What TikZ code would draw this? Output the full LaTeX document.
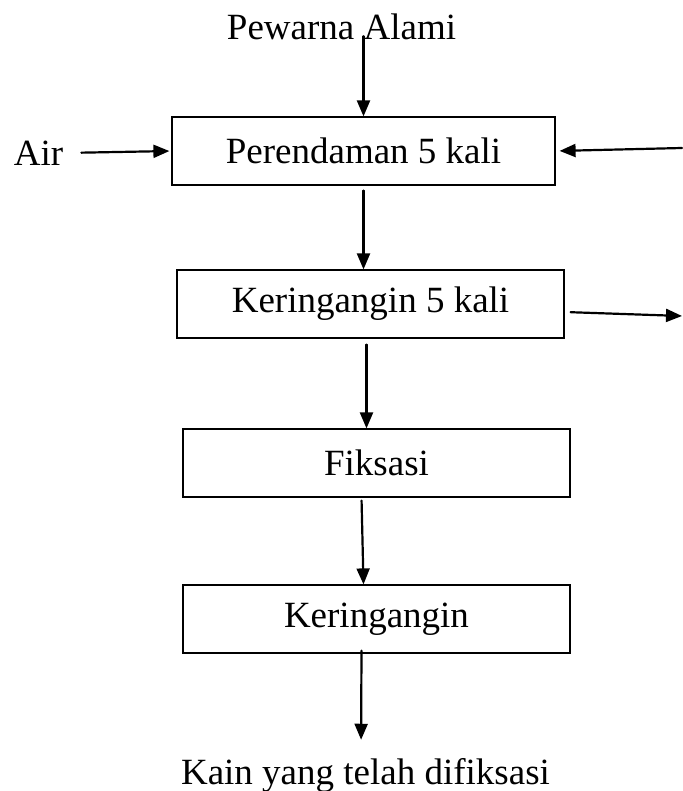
\documentclass[tikz,border=0pt]{standalone}
\usepackage{fontspec}
\setmainfont{Liberation Serif}
\usetikzlibrary{positioning, calc, arrows.meta}

\begin{document}
\begin{tikzpicture}[x=1pt,y=-1pt,line cap=round,
    font=\fontsize{37}{40}\selectfont,
    box/.style={draw, line width=1.2pt, minimum width=387pt, minimum height=68pt, inner sep=0pt},
    arr/.style={-{Triangle[length=16pt,width=13pt]}, line width=2.2pt}]
        \useasboundingbox (0,0) rectangle (682,791);

		%scritte ingresso e uscita
		\node[inner sep=0pt] (pw) at (341.5,27) {Pewarna Alami};
		\node[inner sep=0pt] (air) at (38.5,153) {Air};
		\node[inner sep=0pt, anchor=base] (kain) at (365.5,784) {Kain yang telah difiksasi};

		%blocchi del processo
		\node[box, minimum width=383pt] (rendam) at (363.5,151) {Perendaman 5 kali};
		\node[box] (kering1) at (370.5,304) {Keringangin 5 kali};
		\node[box] (fiksasi) at (376.5,463) {Fiksasi};
		\node[box] (kering2) at (376.5,619) {Keringangin};

		%estremi liberi a destra
		\coordinate (masuk) at (682,148);
		\coordinate (keluar) at (682,316);

		%frecce
		\draw[arr, shorten <=-4pt] (rendam.north |- pw.south) -- (rendam.north);
		\draw[arr, shorten <=18pt, shorten >=2pt] (air.east) -- (rendam.west);
		\draw[arr, shorten >=4pt] (masuk) -- (rendam.east);
		\draw[arr, shorten <=5pt] (rendam.south) -- (rendam.south |- kering1.north);
		\draw[arr, shorten <=6pt] ($(kering1.east)+(0,8)$) -- (keluar);
		\draw[arr, shorten <=6pt] (kering1.south) ++(-4,0) -- ($(kering1.south |- fiksasi.north)+(-4,0)$);
		\draw[arr, shorten <=3pt] ($(fiksasi.south)+(-15,0)$) -- ($(kering2.north)+(-13,0)$);
		\draw[arr, shorten >=18pt] ($(kering2.south)+(-15,-3)$) -- ($(kain.north)+(-4.5,0)$);
	\end{tikzpicture}
\end{document}
